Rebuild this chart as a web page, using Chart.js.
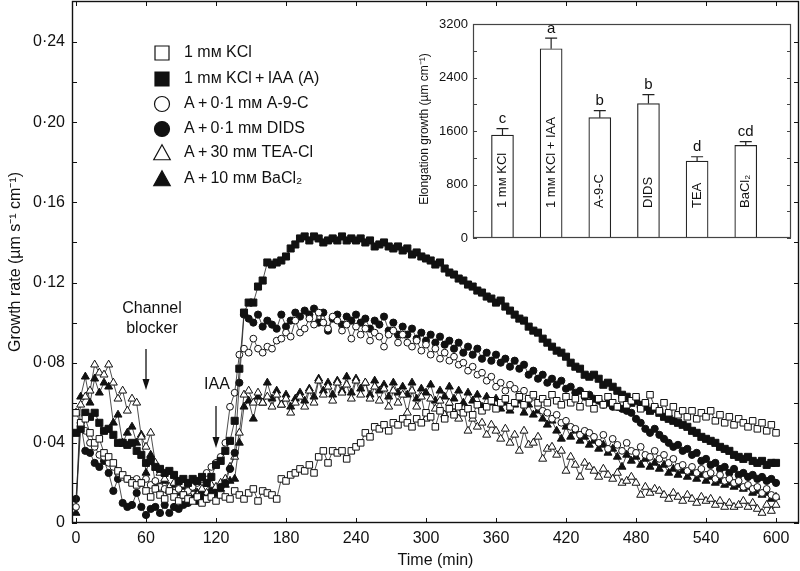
<!DOCTYPE html>
<html>
<head>
<meta charset="utf-8">
<script src="https://cdn.jsdelivr.net/npm/chart.js@4.4.0/dist/chart.umd.min.js"></script>
<style>
  body { margin: 0; background: #fff; }
  #wrap { position: relative; width: 800px; height: 571px; }
  #main { position: absolute; left: 0; top: 0; }
  #inset { position: absolute; left: 400px; top: 10px; }
</style>
</head>
<body>
<div id="wrap">
  <canvas id="main" width="800" height="571"></canvas>
  <canvas id="inset" width="395" height="240"></canvas>
</div>
<script>
// time (min), one reading every 4 min
const times = [
  0,4,8,12,16,20,24,28,32,36,
  40,44,48,52,56,60,64,68,72,76,
  80,84,88,92,96,100,104,108,112,116,
  120,124,128,132,136,140,144,148,152,156,
  160,164,168,172,176,180,184,188,192,196,
  200,204,208,212,216,220,224,228,232,236,
  240,244,248,252,256,260,264,268,272,276,
  280,284,288,292,296,300,304,308,312,316,
  320,324,328,332,336,340,344,348,352,356,
  360,364,368,372,376,380,384,388,392,396,
  400,404,408,412,416,420,424,428,432,436,
  440,444,448,452,456,460,464,468,472,476,
  480,484,488,492,496,500,504,508,512,516,
  520,524,528,532,536,540,544,548,552,556,
  560,564,568,572,576,580,584,588,592,596,
  600
];

// growth rate (µm s-1 cm-1)
const kclOnly = [
  0.055,0.050,0.052,0.045,0.040,0.042,0.035,0.033,0.030,0.026,
  0.024,0.022,0.020,0.019,0.020,0.016,0.013,0.017,0.014,0.012,
  0.016,0.013,0.011,0.014,0.012,0.011,0.013,0.010,0.012,0.013,
  0.011,0.014,0.013,0.012,0.016,0.014,0.012,0.015,0.017,0.011,
  0.016,0.015,0.014,0.012,0.022,0.021,0.024,0.025,0.027,0.026,
  0.029,0.025,0.033,0.036,0.030,0.036,0.035,0.036,0.032,0.036,
  0.038,0.040,0.045,0.043,0.048,0.047,0.049,0.046,0.050,0.049,
  0.052,0.050,0.048,0.052,0.050,0.055,0.053,0.048,0.056,0.052,
  0.057,0.054,0.058,0.055,0.057,0.054,0.059,0.056,0.058,0.061,
  0.057,0.060,0.062,0.058,0.060,0.063,0.059,0.062,0.064,0.060,
  0.062,0.060,0.064,0.061,0.059,0.063,0.060,0.062,0.058,0.064,
  0.060,0.057,0.062,0.059,0.063,0.060,0.058,0.062,0.059,0.061,
  0.063,0.057,0.060,0.064,0.058,0.056,0.060,0.055,0.058,0.054,
  0.056,0.053,0.056,0.052,0.055,0.053,0.056,0.051,0.054,0.050,
  0.053,0.049,0.052,0.050,0.048,0.051,0.047,0.050,0.046,0.049,
  0.045
];
const kclIaa = [
  0.045,0.047,0.055,0.053,0.055,0.050,0.046,0.047,0.044,0.040,
  0.040,0.039,0.040,0.036,0.034,0.030,0.031,0.028,0.027,0.025,
  0.026,0.024,0.021,0.022,0.020,0.022,0.021,0.023,0.020,0.023,
  0.029,0.031,0.036,0.041,0.051,0.077,0.105,0.110,0.110,0.118,
  0.121,0.130,0.129,0.130,0.131,0.133,0.137,0.139,0.142,0.143,
  0.141,0.143,0.142,0.140,0.141,0.142,0.141,0.143,0.141,0.142,
  0.141,0.142,0.140,0.141,0.138,0.139,0.140,0.138,0.137,0.138,
  0.136,0.137,0.134,0.135,0.133,0.132,0.131,0.129,0.130,0.127,
  0.125,0.124,0.122,0.121,0.119,0.118,0.116,0.115,0.113,0.112,
  0.110,0.111,0.108,0.106,0.104,0.102,0.101,0.098,0.096,0.095,
  0.092,0.090,0.088,0.086,0.085,0.083,0.080,0.078,0.077,0.074,
  0.073,0.074,0.072,0.069,0.070,0.068,0.066,0.064,0.063,0.060,
  0.061,0.059,0.058,0.056,0.057,0.055,0.053,0.052,0.051,0.050,
  0.049,0.048,0.046,0.045,0.043,0.042,0.041,0.040,0.038,0.037,
  0.036,0.034,0.033,0.032,0.033,0.031,0.030,0.031,0.029,0.030,
  0.030
];
const a9c = [
  0.008,0.048,0.046,0.040,0.038,0.034,0.033,0.030,0.028,0.025,
  0.023,0.022,0.021,0.022,0.020,0.022,0.019,0.021,0.018,0.017,
  0.016,0.015,0.017,0.014,0.016,0.018,0.020,0.022,0.025,0.028,
  0.030,0.033,0.040,0.058,0.065,0.084,0.087,0.085,0.092,0.087,
  0.085,0.088,0.087,0.091,0.092,0.095,0.093,0.101,0.095,0.097,
  0.102,0.099,0.105,0.100,0.097,0.103,0.101,0.096,0.099,0.092,
  0.098,0.094,0.097,0.091,0.095,0.093,0.088,0.094,0.096,0.090,
  0.094,0.090,0.088,0.091,0.086,0.089,0.084,0.087,0.082,0.085,
  0.081,0.083,0.079,0.080,0.076,0.078,0.074,0.075,0.071,0.073,
  0.068,0.070,0.066,0.069,0.067,0.064,0.066,0.062,0.063,0.058,
  0.056,0.055,0.052,0.054,0.050,0.051,0.048,0.047,0.044,0.046,
  0.045,0.043,0.040,0.044,0.037,0.042,0.039,0.036,0.040,0.036,
  0.035,0.038,0.034,0.033,0.036,0.032,0.034,0.030,0.032,0.028,
  0.029,0.026,0.028,0.025,0.027,0.024,0.025,0.022,0.024,0.021,
  0.022,0.020,0.021,0.018,0.019,0.017,0.018,0.015,0.017,0.014,
  0.013
];
const dids = [
  0.012,0.050,0.036,0.035,0.030,0.028,0.031,0.025,0.016,0.022,
  0.010,0.008,0.009,0.015,0.008,0.004,0.007,0.008,0.005,0.009,
  0.005,0.008,0.007,0.009,0.010,0.012,0.011,0.013,0.012,0.014,
  0.015,0.018,0.020,0.027,0.035,0.070,0.104,0.102,0.100,0.104,
  0.098,0.101,0.099,0.097,0.104,0.098,0.101,0.105,0.103,0.106,
  0.104,0.107,0.100,0.105,0.096,0.102,0.104,0.099,0.103,0.101,
  0.104,0.100,0.102,0.097,0.101,0.099,0.103,0.096,0.100,0.094,
  0.098,0.094,0.097,0.092,0.095,0.091,0.094,0.090,0.093,0.089,
  0.091,0.087,0.090,0.085,0.088,0.084,0.087,0.082,0.085,0.081,
  0.084,0.080,0.082,0.078,0.081,0.077,0.079,0.074,0.076,0.072,
  0.074,0.070,0.072,0.069,0.071,0.067,0.068,0.065,0.066,0.063,
  0.064,0.062,0.061,0.059,0.060,0.058,0.058,0.057,0.056,0.055,
  0.052,0.050,0.047,0.045,0.047,0.044,0.042,0.040,0.038,0.039,
  0.036,0.037,0.034,0.035,0.031,0.032,0.029,0.030,0.027,0.028,
  0.025,0.027,0.024,0.025,0.023,0.024,0.022,0.023,0.021,0.022,
  0.020
];
const tea = [
  0.055,0.059,0.063,0.066,0.079,0.075,0.074,0.079,0.070,0.062,
  0.066,0.056,0.062,0.060,0.043,0.038,0.045,0.030,0.025,0.022,
  0.018,0.020,0.016,0.019,0.015,0.018,0.014,0.017,0.015,0.019,
  0.018,0.020,0.022,0.028,0.033,0.045,0.064,0.066,0.060,0.065,
  0.060,0.063,0.058,0.064,0.059,0.062,0.055,0.060,0.063,0.058,
  0.066,0.060,0.071,0.064,0.068,0.061,0.070,0.065,0.069,0.062,
  0.071,0.064,0.070,0.062,0.068,0.061,0.067,0.058,0.066,0.060,
  0.064,0.055,0.066,0.058,0.063,0.052,0.062,0.057,0.061,0.054,
  0.060,0.055,0.052,0.057,0.046,0.052,0.048,0.050,0.044,0.049,
  0.046,0.042,0.047,0.040,0.044,0.036,0.046,0.039,0.040,0.043,
  0.032,0.037,0.038,0.034,0.036,0.026,0.033,0.029,0.023,0.030,
  0.028,0.026,0.023,0.027,0.024,0.022,0.025,0.020,0.021,0.023,
  0.020,0.014,0.018,0.015,0.017,0.016,0.014,0.012,0.015,0.013,
  0.011,0.014,0.012,0.010,0.013,0.011,0.012,0.009,0.011,0.008,
  0.010,0.008,0.009,0.011,0.008,0.010,0.007,0.005,0.009,0.006,
  0.009
];
const bacl2 = [
  0.005,0.063,0.073,0.060,0.072,0.065,0.070,0.068,0.050,0.054,
  0.040,0.045,0.048,0.040,0.044,0.025,0.034,0.020,0.018,0.021,
  0.016,0.019,0.015,0.018,0.014,0.017,0.015,0.016,0.014,0.017,
  0.015,0.017,0.019,0.021,0.022,0.040,0.058,0.061,0.052,0.063,
  0.060,0.070,0.062,0.066,0.059,0.064,0.058,0.062,0.065,0.061,
  0.067,0.063,0.072,0.066,0.070,0.064,0.071,0.066,0.073,0.065,
  0.072,0.067,0.070,0.064,0.071,0.066,0.069,0.063,0.070,0.065,
  0.068,0.064,0.070,0.062,0.067,0.065,0.069,0.061,0.066,0.063,
  0.068,0.062,0.066,0.060,0.065,0.061,0.064,0.058,0.063,0.060,
  0.062,0.057,0.060,0.056,0.059,0.061,0.055,0.059,0.054,0.056,
  0.052,0.049,0.051,0.046,0.042,0.048,0.043,0.046,0.041,0.043,
  0.039,0.041,0.037,0.039,0.035,0.037,0.033,0.028,0.034,0.031,
  0.033,0.029,0.032,0.028,0.030,0.027,0.029,0.025,0.027,0.024,
  0.026,0.023,0.025,0.022,0.024,0.021,0.023,0.020,0.021,0.019,
  0.020,0.018,0.019,0.017,0.018,0.015,0.016,0.014,0.015,0.012,
  0.013
];

const xTicks = [0, 60, 120, 180, 240, 300, 360, 420, 480, 540, 600];
const yTicks = [0, 0.02, 0.04, 0.06, 0.08, 0.10, 0.12, 0.14, 0.16, 0.18, 0.20, 0.22, 0.24];

const seriesNames = ['1 mᴍ KCl', '1 mᴍ KCl\u2009+\u2009IAA (A)', 'A\u2009+\u20090·1 mᴍ A-9-C',
  'A\u2009+\u20090·1 mᴍ DIDS', 'A\u2009+\u200930 mᴍ TEA-Cl', 'A\u2009+\u200910 mᴍ BaCl₂'];

// inset bar chart
const barLabels = ['1 mᴍ KCl', '1 mᴍ KCl + IAA', 'A-9-C', 'DIDS', 'TEA', 'BaCl₂'];
const barValues = [1540, 2830, 1800, 2010, 1150, 1385];
const barErrors = [95, 160, 105, 135, 65, 55];
const barLetters = ['c', 'a', 'b', 'b', 'd', 'cd'];
const insetTicks = [0, 400, 800, 1200, 1600, 2000, 2400, 2800, 3200];

const FONT = '"Liberation Sans", Arial, Helvetica, sans-serif';
const INK = '#111';

const styles = [
  { pointStyle: 'rect', filled: false, r: 4.6 },
  { pointStyle: 'rect', filled: true, r: 5 },
  { pointStyle: 'circle', filled: false, r: 3.4 },
  { pointStyle: 'circle', filled: true, r: 3.6 },
  { pointStyle: 'triangle', filled: false, r: 4.6 },
  { pointStyle: 'triangle', filled: true, r: 4.6 }
];
const allSeries = [kclOnly, kclIaa, a9c, dids, tea, bacl2];

const datasets = allSeries.map((vals, k) => ({
  label: seriesNames[k],
  data: vals.map((v, i) => ({ x: times[i], y: v })),
  borderColor: '#222',
  borderWidth: 0.8,
  pointStyle: styles[k].pointStyle,
  pointRadius: styles[k].r,
  pointBorderWidth: 1,
  pointBorderColor: INK,
  pointBackgroundColor: styles[k].filled ? INK : '#fff',
  tension: 0
}));

function drawMarker(ctx, style, filled, x, y, s) {
  ctx.beginPath();
  if (style === 'rect') ctx.rect(x - s / 2, y - s / 2, s, s);
  else if (style === 'circle') ctx.arc(x, y, s / 2, 0, Math.PI * 2);
  else {
    ctx.moveTo(x, y - s * 0.55);
    ctx.lineTo(x + s * 0.55, y + s * 0.45);
    ctx.lineTo(x - s * 0.55, y + s * 0.45);
    ctx.closePath();
  }
  ctx.fillStyle = filled ? INK : '#fff';
  ctx.fill();
  ctx.lineWidth = 1.2;
  ctx.strokeStyle = INK;
  ctx.stroke();
}

function arrowDown(ctx, x, y1, y2) {
  ctx.beginPath();
  ctx.moveTo(x, y1);
  ctx.lineTo(x, y2 - 8);
  ctx.lineWidth = 1.3;
  ctx.strokeStyle = INK;
  ctx.stroke();
  ctx.beginPath();
  ctx.moveTo(x, y2);
  ctx.lineTo(x - 3.5, y2 - 11);
  ctx.lineTo(x + 3.5, y2 - 11);
  ctx.closePath();
  ctx.fillStyle = INK;
  ctx.fill();
}

const mainDecor = {
  id: 'mainDecor',
  afterDraw(chart) {
    const ctx = chart.ctx;
    const a = chart.chartArea;
    const xs = chart.scales.x, ys = chart.scales.y;
    ctx.save();
    // frame
    ctx.strokeStyle = INK;
    ctx.lineWidth = 1.4;
    ctx.strokeRect(a.left + 0.5, a.top + 0.5, a.right - a.left - 1, a.bottom - a.top - 1);
    // inward ticks
    ctx.lineWidth = 1;
    ctx.beginPath();
    xTicks.forEach(t => {
      const px = Math.round(xs.getPixelForValue(t)) + 0.5;
      ctx.moveTo(px, a.bottom); ctx.lineTo(px, a.bottom - 5);
      ctx.moveTo(px, a.top); ctx.lineTo(px, a.top + 5);
    });
    yTicks.forEach(v => {
      const py = Math.round(ys.getPixelForValue(v)) + 0.5;
      ctx.moveTo(a.left, py); ctx.lineTo(a.left + 5, py);
      ctx.moveTo(a.right, py); ctx.lineTo(a.right - 5, py);
    });
    ctx.stroke();

    // axis titles
    ctx.fillStyle = INK;
    ctx.font = '16px ' + FONT;
    ctx.textAlign = 'center';
    ctx.textBaseline = 'middle';
    ctx.fillText('Time (min)', (a.left + a.right) / 2, 561);
    ctx.save();
    ctx.translate(16, 262);
    ctx.rotate(-Math.PI / 2);
    ctx.fillText('Growth rate (µm s⁻¹ cm⁻¹)', 0, 0);
    ctx.restore();

    // legend
    const rows = [53, 79, 104, 129, 153, 179];
    const lsize = [14, 14, 15, 15, 15, 15];
    rows.forEach((ry, k) => {
      drawMarker(ctx, styles[k].pointStyle, styles[k].filled, 162, ry, lsize[k]);
      ctx.fillStyle = INK;
      ctx.textAlign = 'left';
      ctx.font = '16px ' + FONT;
      ctx.fillText(seriesNames[k], 184, ry);
    });

    // annotations
    ctx.textAlign = 'center';
    ctx.fillText('Channel', 152, 309);
    ctx.fillText('blocker', 152, 329);
    arrowDown(ctx, xs.getPixelForValue(60), 349, 390);
    ctx.fillText('IAA', 217, 385);
    arrowDown(ctx, xs.getPixelForValue(120), 406, 448);
    ctx.restore();
  }
};

new Chart(document.getElementById('main'), {
  type: 'line',
  data: { datasets: datasets },
  options: {
    responsive: false,
    animation: false,
    events: [],
    layout: { autoPadding: false, padding: { top: 1, right: 1, left: 0, bottom: 0 } },
    plugins: { legend: { display: false }, tooltip: { enabled: false } },
    scales: {
      x: {
        type: 'linear',
        min: -3.43,
        max: 619.7,
        afterBuildTicks: s => { s.ticks = xTicks.map(v => ({ value: v })); },
        afterFit: s => { s.height = 48; s.paddingLeft = 0; s.paddingRight = 0; },
        grid: { display: false, drawTicks: false },
        border: { display: false },
        ticks: { color: INK, font: { family: FONT, size: 16 }, padding: 6, maxRotation: 0, autoSkip: false }
      },
      y: {
        min: 0,
        max: 0.2605,
        afterBuildTicks: s => { s.ticks = yTicks.map(v => ({ value: v })); },
        afterFit: s => { s.width = 72; s.paddingTop = 0; s.paddingBottom = 0; },
        grid: { display: false, drawTicks: false },
        border: { display: false },
        ticks: {
          color: INK,
          font: { family: FONT, size: 16 },
          padding: 7,
          autoSkip: false,
          callback: (v, i) => {
            if (i % 2 === 1) return '';
            return v === 0 ? '0' : v.toFixed(2).replace('.', '·');
          }
        }
      }
    }
  },
  plugins: [mainDecor]
});

const insetDecor = {
  id: 'insetDecor',
  afterDraw(chart) {
    const ctx = chart.ctx;
    const a = chart.chartArea;
    const ys = chart.scales.y;
    const meta = chart.getDatasetMeta(0);
    ctx.save();
    ctx.strokeStyle = '#444';
    ctx.lineWidth = 1.2;
    ctx.strokeRect(a.left + 0.5, a.top + 0.5, a.right - a.left - 1, a.bottom - a.top - 1);
    ctx.lineWidth = 1;
    ctx.beginPath();
    insetTicks.forEach(v => {
      const py = Math.round(ys.getPixelForValue(v)) + 0.5;
      ctx.moveTo(a.left, py); ctx.lineTo(a.left + 4, py);
      ctx.moveTo(a.right, py); ctx.lineTo(a.right - 4, py);
    });
    ctx.stroke();

    meta.data.forEach((bar, i) => {
      const top = ys.getPixelForValue(barValues[i]);
      const errTop = ys.getPixelForValue(barValues[i] + barErrors[i]);
      ctx.strokeStyle = '#222';
      ctx.lineWidth = 1.2;
      ctx.beginPath();
      ctx.moveTo(bar.x, top);
      ctx.lineTo(bar.x, errTop);
      ctx.moveTo(bar.x - 6, errTop);
      ctx.lineTo(bar.x + 6, errTop);
      ctx.stroke();
      ctx.fillStyle = INK;
      ctx.font = '15px ' + FONT;
      ctx.textAlign = 'center';
      ctx.textBaseline = 'bottom';
      ctx.fillText(barLetters[i], bar.x, errTop - 2);
      // vertical label inside the bar
      ctx.save();
      ctx.translate(bar.x, a.bottom - 30);
      ctx.rotate(-Math.PI / 2);
      ctx.font = '13px ' + FONT;
      ctx.textAlign = 'left';
      ctx.textBaseline = 'middle';
      ctx.fillText(barLabels[i], 0, 0);
      ctx.restore();
    });

    ctx.fillStyle = INK;
    ctx.font = '12px ' + FONT;
    ctx.textAlign = 'center';
    ctx.textBaseline = 'middle';
    ctx.translate(25, 119);
    ctx.rotate(-Math.PI / 2);
    ctx.fillText('Elongation growth (µm cm⁻¹)', 0, 0);
    ctx.restore();
  }
};

new Chart(document.getElementById('inset'), {
  type: 'bar',
  data: {
    datasets: [{
      data: barValues.map((v, i) => ({ x: i, y: v })),
      backgroundColor: '#fff',
      borderColor: '#222',
      borderWidth: 1.2,
      borderSkipped: false,
      barThickness: 22
    }]
  },
  options: {
    responsive: false,
    animation: false,
    events: [],
    layout: { autoPadding: false, padding: { top: 14, right: 4, left: 0, bottom: 0 } },
    plugins: { legend: { display: false }, tooltip: { enabled: false } },
    scales: {
      x: {
        type: 'linear',
        min: -0.606,
        max: 5.93,
        offset: false,
        afterFit: s => { s.height = 12; s.paddingLeft = 0; s.paddingRight = 0; },
        grid: { display: false, drawTicks: false },
        border: { display: false },
        ticks: { display: false }
      },
      y: {
        min: 0,
        max: 3200,
        afterBuildTicks: s => { s.ticks = insetTicks.map(v => ({ value: v })); },
        afterFit: s => { s.width = 73; s.paddingTop = 0; s.paddingBottom = 0; },
        grid: { display: false, drawTicks: false },
        border: { display: false },
        ticks: {
          color: INK,
          font: { family: FONT, size: 13 },
          padding: 5,
          autoSkip: false,
          callback: v => (v % 800 === 0 ? String(v) : '')
        }
      }
    }
  },
  plugins: [insetDecor]
});
</script>
</body>
</html>
